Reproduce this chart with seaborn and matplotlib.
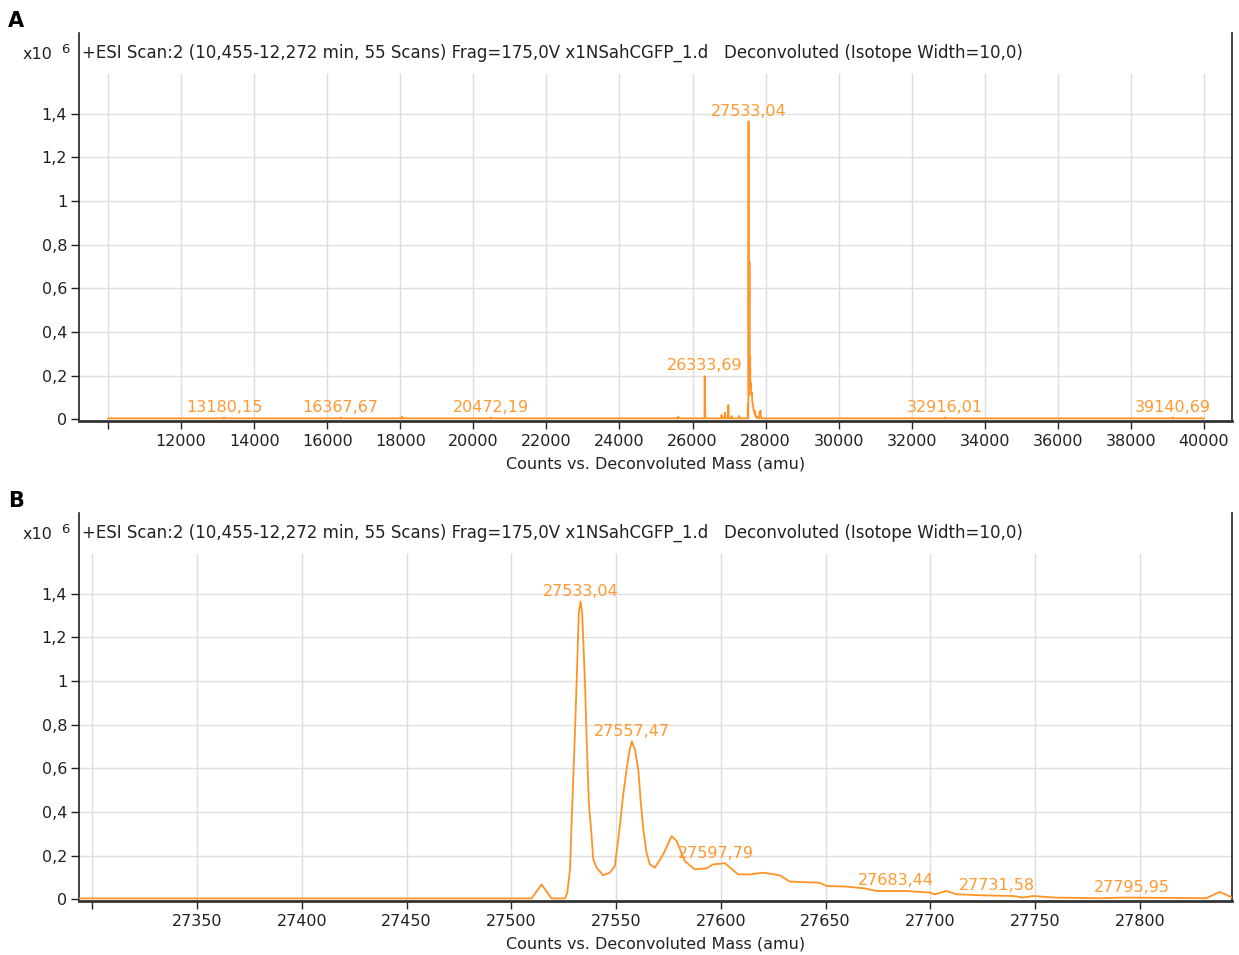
import numpy as np
import pandas as pd
import matplotlib
matplotlib.use("Agg")
import matplotlib.pyplot as plt
import seaborn as sns
from matplotlib.ticker import FixedLocator, FuncFormatter

# ── Data (counts x10^6 vs deconvoluted mass) ────────────────────────────
# Detail around the main peak (panel B)
zoom_mass = [27293.0, 27509.7, 27514.4, 27519.2, 27525.6, 27526.7, 27528.0,
             27529.1, 27530.3, 27531.2, 27532.2, 27533.04, 27533.8, 27535.1,
             27535.9, 27537.0, 27538.3, 27539.1, 27540.7, 27543.8, 27547.0,
             27549.4, 27551.8, 27553.3, 27555.0, 27556.5, 27557.47, 27559.0,
             27560.6, 27561.8, 27563.0, 27564.5, 27566.1, 27568.5, 27572.5,
             27576.5, 27578.9, 27582.8, 27587.6, 27593.2, 27596.3, 27601.9,
             27608.3, 27613.8, 27620.2, 27628.1, 27632.9, 27647.2, 27650.4,
             27660.0, 27668.7, 27674.3, 27688.6, 27699.7, 27702.0, 27707.6,
             27712.4, 27725.1, 27739.5, 27744.2, 27749.0, 27759.3, 27780.8,
             27791.9, 27831.7, 27838.0, 27844.0]
zoom_counts = [0.004, 0.004, 0.068, 0.004, 0.004, 0.030, 0.137,
               0.440, 0.747, 1.006, 1.310, 1.365, 1.310, 1.006,
               0.747, 0.440, 0.290, 0.183, 0.145, 0.110, 0.122,
               0.152, 0.335, 0.473, 0.595, 0.686, 0.724, 0.686,
               0.595, 0.440, 0.320, 0.215, 0.160, 0.145, 0.206,
               0.290, 0.267, 0.175, 0.137, 0.142, 0.160, 0.165,
               0.114, 0.114, 0.122, 0.110, 0.081, 0.076, 0.061,
               0.058, 0.050, 0.038, 0.038, 0.031, 0.023, 0.038,
               0.023, 0.018, 0.015, 0.008, 0.015, 0.008, 0.005,
               0.008, 0.005, 0.034, 0.008]

# Rest of the full spectrum (panel A), below and above the detail window
low_mass = [10000, 13174, 13180.15, 13186, 16361, 16367.67, 16374,
            18040, 18050, 18060, 20466, 20472.19, 20478,
            25600, 25612, 25624, 26327, 26333.69, 26337, 26342, 26350,
            26782, 26794, 26806, 26878, 26890, 26902, 26968, 26981, 26994,
            27060, 27072, 27084, 27261, 27273, 27285]
low_counts = [0.004, 0.004, 0.008, 0.004, 0.004, 0.008, 0.004,
              0.004, 0.012, 0.004, 0.004, 0.008, 0.004,
              0.004, 0.012, 0.004, 0.004, 0.197, 0.100, 0.090, 0.004,
              0.004, 0.020, 0.004, 0.004, 0.030, 0.004, 0.004, 0.065, 0.004,
              0.004, 0.015, 0.004, 0.004, 0.015, 0.004]
high_mass = [27852, 27860, 27870, 27900, 32910, 32916.01, 32922,
             39134, 39140.69, 39147, 40000]
high_counts = [0.030, 0.040, 0.008, 0.004, 0.004, 0.008, 0.004,
               0.004, 0.008, 0.004, 0.004]

full_labels = [13180.15, 16367.67, 20472.19, 26333.69, 27533.04,
               32916.01, 39140.69]
zoom_labels = [27533.04, 27557.47, 27597.79, 27683.44, 27731.58, 27795.95]

full_xticks = [10000, 12000, 14000, 16000, 18000, 20000, 22000, 24000,
               26000, 28000, 30000, 32000, 34000, 36000, 38000, 40000]
zoom_xticks = [27300, 27350, 27400, 27450, 27500, 27550, 27600, 27650,
               27700, 27750, 27800]
yticks = [0, 0.2, 0.4, 0.6, 0.8, 1.0, 1.2, 1.4]

scan_title = ("+ESI Scan:2 (10,455-12,272 min, 55 Scans) Frag=175,0V "
              "x1NSahCGFP_1.d   Deconvoluted (Isotope Width=10,0)")

LINE = "#ff9326"
LABEL = "#ff9a33"
GRID = "#dedede"
INK = "#222222"
FS = 11.5

sns.set_theme(style="white")
plt.rcParams["font.family"] = ["DejaVu Sans"]


def comma(v, decimals=None):
    if decimals is None:
        s = f"{v:g}"
    else:
        s = f"{v:.{decimals}f}"
    return s.replace(".", ",")


def draw_panel(ax, mass, counts, labels, xticks, xlim):
    df = pd.DataFrame({"mass": mass, "counts": counts})
    sns.lineplot(data=df, x="mass", y="counts", ax=ax, color=LINE,
                 linewidth=1.3, sort=False, estimator=None, zorder=3)

    ax.set_xlim(*xlim)
    ax.set_ylim(-0.008, 1.77)

    # grid: horizontal across, vertical stopping under the header text
    for y in yticks[1:]:
        ax.axhline(y, color=GRID, lw=1, zorder=0)
    ax.vlines(xticks, 0, 1.587, color=GRID, lw=1, zorder=0)

    ax.xaxis.set_major_locator(FixedLocator(xticks))
    ax.xaxis.set_major_formatter(
        FuncFormatter(lambda v, p: "" if v == xticks[0] else f"{v:.0f}"))
    ax.yaxis.set_major_locator(FixedLocator(yticks))
    ax.yaxis.set_major_formatter(FuncFormatter(lambda v, p: comma(round(v, 1))))
    ax.tick_params(axis="both", direction="out", length=5.5, width=1,
                   color=INK, labelcolor=INK, labelsize=FS, pad=3,
                   bottom=True, left=True)
    ax.tick_params(axis="x", pad=4)

    for side in ("left", "right"):
        ax.spines[side].set_color(INK)
        ax.spines[side].set_linewidth(1.2)
    ax.spines["bottom"].set_color("#333333")
    ax.spines["bottom"].set_linewidth(2)
    ax.spines["top"].set_visible(False)

    ax.set_xlabel("Counts vs. Deconvoluted Mass (amu)", fontsize=FS,
                  color=INK, labelpad=5)
    ax.set_ylabel("")

    ax.text(0.0025, 0.948, scan_title, transform=ax.transAxes,
            ha="left", va="center", fontsize=12, color=INK)

    for m in labels:
        h = np.interp(m, mass, counts)
        ax.annotate(comma(m, 2), (m, h), xytext=(0, 2),
                    textcoords="offset points", ha="center", va="bottom",
                    fontsize=FS, color=LABEL, zorder=4)


fig = plt.figure(figsize=(12.39, 9.55), dpi=100)
ax_a = fig.add_axes([0.0638, 0.5592, 0.9305, 0.4063])
ax_b = fig.add_axes([0.0638, 0.0565, 0.9305, 0.4063])

full_mass = low_mass + zoom_mass + high_mass
full_counts = low_counts + zoom_counts + high_counts

draw_panel(ax_a, full_mass, full_counts, full_labels, full_xticks,
           (9206, 40766))
draw_panel(ax_b, zoom_mass, zoom_counts, zoom_labels, zoom_xticks,
           (27293.7, 27843.9))

for ax, letter in ((ax_a, "A"), (ax_b, "B")):
    bb = ax.get_position()
    fig.text(0.0065, bb.y1 + 0.013, letter, fontsize=15, fontweight="bold",
             color="black", ha="left", va="center")
    fig.text(0.0185, bb.y1 - 0.0225, "x10", fontsize=FS, color=INK,
             ha="left", va="center")
    fig.text(0.049, bb.y1 - 0.0175, "6", fontsize=9.5, color=INK,
             ha="left", va="center")

fig.savefig("out.png", dpi=100, facecolor="white")
